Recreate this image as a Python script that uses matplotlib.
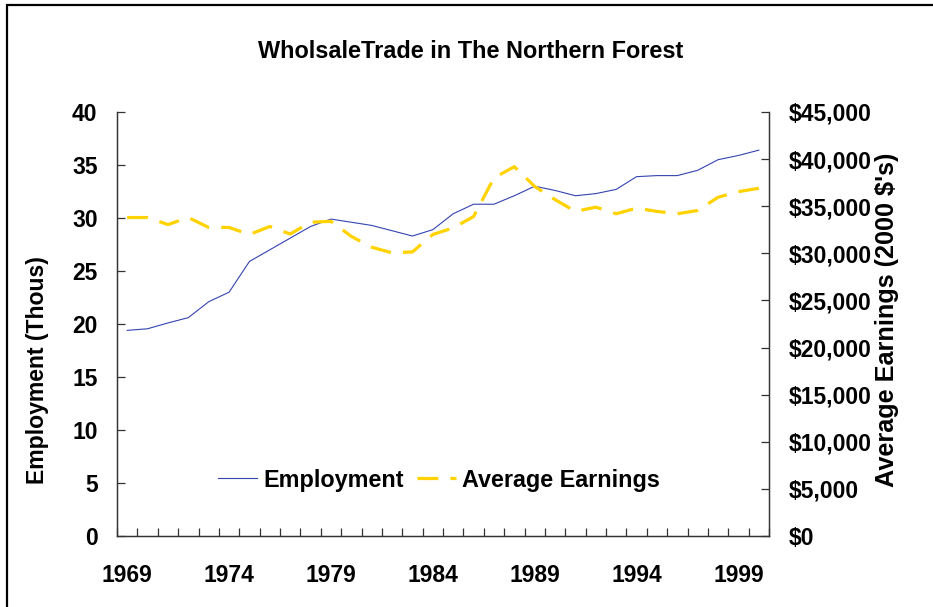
import matplotlib
matplotlib.use('Agg')
import matplotlib.pyplot as plt
from matplotlib.patches import Rectangle
from matplotlib.ticker import FuncFormatter, MultipleLocator

plt.rcParams['font.family'] = ['Liberation Sans', 'DejaVu Sans']
plt.rcParams['font.weight'] = 'bold'

# data
years = list(range(1969, 2001))
employment = [19.4, 19.55, 20.1, 20.6, 22.1, 23.0, 25.9, 27.0, 28.1, 29.2,
              29.9, 29.6, 29.3, 28.8, 28.3, 28.9, 30.4, 31.3, 31.3, 32.1,
              33.0, 32.6, 32.1, 32.3, 32.7, 33.9, 34.0, 34.0, 34.5, 35.5,
              35.9, 36.4]
earnings = [33800, 33800, 33050, 33800, 32750, 32750, 32000, 32850, 32050, 33300,
            33400, 31800, 30650, 30050, 30150, 32000, 32700, 33900, 38000, 39200,
            37100, 35700, 34450, 34900, 34200, 34800, 34450, 34200, 34550, 35950,
            36550, 36900]
label_years = [1969, 1974, 1979, 1984, 1989, 1994, 1999]

W, H = 933, 607
fig = plt.figure(figsize=(W / 100, H / 100), dpi=100)

# plot area in pixels: x 117..769, y 112..536
ax1 = fig.add_axes([117 / W, 1 - 536 / H, (769 - 117) / W, (536 - 112) / H])
ax2 = ax1.twinx()

x = list(range(len(years)))
l1, = ax1.plot(x, employment, color='#3444b0', lw=0.8, label='Employment')
l2, = ax2.plot(x, earnings, color='#ffd200', lw=2.3, dashes=(6.5, 3.8),
               label='Average Earnings')

ax1.set_xlim(-0.5, len(years) - 0.5)
ax1.set_ylim(0, 40)
ax2.set_ylim(0, 45000)

# category axis: ticks between categories, labels every 5 years
ax1.set_xticks([i - 0.5 for i in range(len(years) + 1)], minor=True)
ax1.set_xticks([years.index(y) for y in label_years])
ax1.set_xticklabels([str(y) for y in label_years])
ax1.tick_params(axis='x', which='major', length=0, pad=20, labelsize=16.5)
ax1.tick_params(axis='x', which='minor', direction='in', length=6, width=0.9,
                color='#333333')

ax1.yaxis.set_major_locator(MultipleLocator(5))
ax1.tick_params(axis='y', direction='in', length=6, width=0.9, pad=14,
                labelsize=16.5, color='#333333')
ax2.yaxis.set_major_locator(MultipleLocator(5000))
ax2.yaxis.set_major_formatter(FuncFormatter(lambda v, p: '${:,.0f}'.format(v)))
ax2.tick_params(axis='y', direction='in', length=6, width=0.9, pad=14,
                labelsize=16.5, color='#333333')

for ax in (ax1, ax2):
    ax.spines['top'].set_visible(False)
    for s in ('left', 'right', 'bottom'):
        ax.spines[s].set_color('#333333')
        ax.spines[s].set_linewidth(0.9)

ax1.legend([l1, l2], ['Employment', 'Average Earnings'], ncol=2, frameon=False,
           loc='center', bbox_to_anchor=(0.494, 0.132), fontsize=16.8,
           handlelength=1.67, handletextpad=0.26, columnspacing=0.56)

fig.text(471 / W, 1 - 52 / H, 'WholsaleTrade in The Northern Forest',
         ha='center', va='center', fontsize=16.9, fontweight='bold')
fig.text(38 / W, 1 - 370 / H, 'Employment (Thous)', rotation=90,
         ha='center', va='center', fontsize=16.6, fontweight='bold')
fig.text(887 / W, 1 - 320 / H, "Average Earnings (2000 $'s)", rotation=90,
         ha='center', va='center', fontsize=18.2, fontweight='bold')

# chart frame, only left and top edges fall inside the picture
fig.patches.append(Rectangle((7 / W, -0.1), 1.2, 1.1 - 5 / H, transform=fig.transFigure,
                             fill=False, edgecolor='black', lw=1.6))

fig.savefig('out.png', dpi=100)
